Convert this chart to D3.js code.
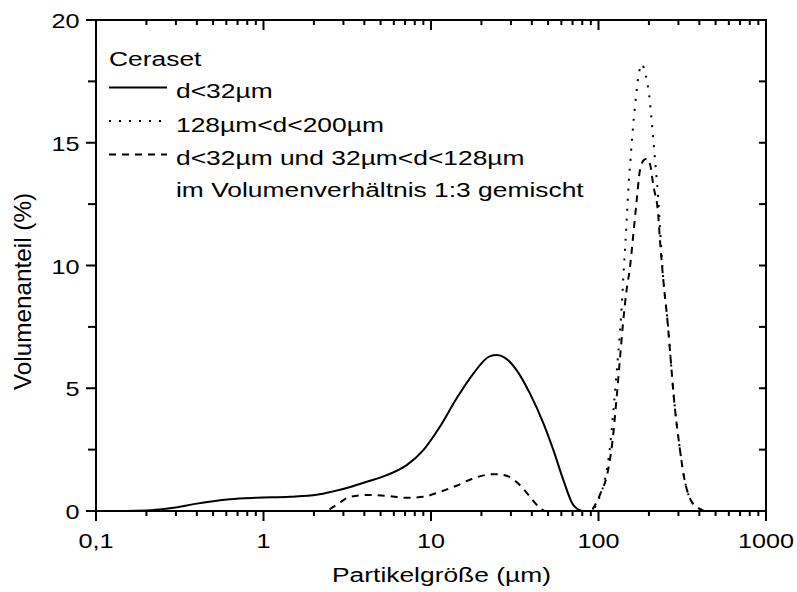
<!DOCTYPE html>
<html>
<head>
<meta charset="utf-8">
<script src="https://cdn.jsdelivr.net/npm/d3@7"></script>
<style>
  html, body { margin: 0; padding: 0; background: #fff; }
  svg text { font-family: "Liberation Sans", Arial, sans-serif; fill: #000; }
</style>
</head>
<body>
<svg id="chart" width="797" height="592"></svg>
<script>
// ---- data ----
const solidSize = [0.1, 0.15, 0.2, 0.29, 0.4, 0.5, 0.63, 0.91, 1.44, 2.08, 2.61, 3.3, 4.13, 5.44, 7.16, 9.0, 11.3, 14.2, 17.9, 22.4, 24.7, 27.5, 32.5, 39, 46.9, 53.8, 61.7, 70.8, 81, 100, 1000];
const solidVal  = [0, 0, 0.02, 0.13, 0.3, 0.4, 0.48, 0.54, 0.58, 0.66, 0.8, 0.98, 1.19, 1.46, 1.87, 2.48, 3.43, 4.58, 5.6, 6.3, 6.35, 6.25, 5.73, 4.78, 3.57, 2.48, 1.26, 0.24, 0, 0, 0];

const dottedSize = [0.1, 90, 95.6, 101.6, 109, 117.1, 122.7, 128.2, 134, 138.6, 141.7, 145, 148.3, 151.8, 155.2, 158.8, 162.5, 167.6, 173, 181, 192, 201, 207, 212, 217, 222, 227, 233, 244, 259, 271, 284, 303, 324, 355, 400, 435, 1000];
const dottedVal  = [0, 0, 0.17, 0.58, 1.26, 2.6, 4.1, 5.6, 7.22, 8.7, 9.9, 11.0, 12.2, 13.46, 14.3, 15.2, 16.0, 16.9, 17.7, 18.2, 17.7, 16.9, 16.0, 15.2, 14.4, 13.6, 12.8, 11.5, 9.4, 7.7, 6.0, 4.4, 2.75, 1.4, 0.45, 0.1, 0, 0];

const dashedSize = [0.1, 2.4, 2.52, 2.8, 3.28, 4.13, 5.44, 7.16, 9.0, 11.3, 14.2, 17.9, 23.5, 24.7, 29.4, 33.9, 39, 44, 48, 90, 94, 102.8, 113, 121.4, 127.4, 133.5, 140, 147, 154, 161.5, 169, 177, 187, 196, 205, 212, 227, 233, 244.6, 259, 271, 284, 303, 324, 355, 400, 435, 1000];
const dashedVal  = [0, 0, 0.1, 0.3, 0.58, 0.65, 0.62, 0.54, 0.58, 0.78, 1.03, 1.33, 1.5, 1.5, 1.39, 1.06, 0.58, 0.17, 0, 0, 0.17, 0.72, 1.53, 2.89, 4.38, 6.0, 7.63, 8.98, 9.9, 11.29, 12.64, 13.9, 14.3, 14.35, 14.0, 13.3, 12.1, 11.0, 9.3, 7.63, 6.0, 4.38, 2.75, 1.39, 0.45, 0.1, 0, 0];

const xTickValues = [0.1, 1, 10, 100, 1000];
const xTickLabels = ["0,1", "1", "10", "100", "1000"];
const yTickValues = [0, 5, 10, 15, 20];
const yTickLabels = ["0", "5", "10", "15", "20"];

const legendTitle = "Ceraset";
const legendLabels = ["d<32µm", "128µm<d<200µm", "d<32µm und 32µm<d<128µm"];
const legendExtra = "im Volumenverhältnis 1:3 gemischt";
const xTitle = "Partikelgröße (µm)";
const yTitle = "Volumenanteil (%)";

// ---- layout ----
const L = 96, R = 766, T = 20, B = 511;
const FS = 20, SX_TEXT = 1.32, SX_TICK = 1.26;

const svg = d3.select("#chart");
const x = d3.scaleLog().domain([0.1, 1000]).range([L, R]);
const y = d3.scaleLinear().domain([0, 20]).range([B, T]);

const minorX = [];
[0.1, 1, 10, 100].forEach(dec => { for (let k = 2; k <= 9; k++) minorX.push(dec * k); });
const minorY = [2.5, 7.5, 12.5, 17.5];

function txt(px, py, s, anchor, sx) {
  return svg.append("text")
    .attr("transform", `translate(${px},${py}) scale(${sx || SX_TEXT},1)`)
    .attr("text-anchor", anchor || "start")
    .style("font-size", FS + "px")
    .text(s);
}

// ---- curves ----
const line = d3.line().x(d => x(d[0])).y(d => y(d[1])).curve(d3.curveMonotoneX);
const series = [
  { s: solidSize, v: solidVal, dash: null },
  { s: dottedSize, v: dottedVal, dash: "2,8" },
  { s: dashedSize, v: dashedVal, dash: "7,6" }
];
series.forEach(se => {
  const pts = se.s.map((d, i) => [d, se.v[i]]);
  svg.append("path").datum(pts)
    .attr("d", line)
    .attr("fill", "none")
    .attr("stroke", "#000")
    .attr("stroke-width", 2)
    .attr("stroke-dasharray", se.dash);
});

// ---- axes ----
const ax = svg.append("g").attr("stroke", "#000").attr("stroke-width", 2).attr("fill", "none");
ax.append("rect").attr("x", L).attr("y", T).attr("width", R - L).attr("height", B - T);

xTickValues.forEach(v => {
  ax.append("line").attr("x1", x(v)).attr("x2", x(v)).attr("y1", B).attr("y2", B + 10);
  ax.append("line").attr("x1", x(v)).attr("x2", x(v)).attr("y1", T).attr("y2", T + 10);
});
minorX.forEach(v => {
  ax.append("line").attr("x1", x(v)).attr("x2", x(v)).attr("y1", B).attr("y2", B + 5);
  ax.append("line").attr("x1", x(v)).attr("x2", x(v)).attr("y1", T).attr("y2", T + 5);
});
yTickValues.forEach(v => {
  ax.append("line").attr("x1", L - 10).attr("x2", L).attr("y1", y(v)).attr("y2", y(v));
  ax.append("line").attr("x1", R - 7).attr("x2", R).attr("y1", y(v)).attr("y2", y(v));
});
minorY.forEach(v => {
  ax.append("line").attr("x1", L - 8).attr("x2", L).attr("y1", y(v)).attr("y2", y(v));
  ax.append("line").attr("x1", R - 7).attr("x2", R).attr("y1", y(v)).attr("y2", y(v));
});

// tick labels
xTickValues.forEach((v, i) => txt(x(v), 548, xTickLabels[i], "middle", SX_TICK));
yTickValues.forEach((v, i) => txt(79.5, y(v) + 8, yTickLabels[i], "end", SX_TICK));

// axis titles
txt(441.5, 582, xTitle, "middle");
svg.append("text")
  .attr("transform", `translate(31,291.5) rotate(-90)`)
  .attr("text-anchor", "middle")
  .style("font-size", "24.3px")
  .text(yTitle);

// ---- legend ----
const lx0 = 109, lx1 = 167, tx = 176;
txt(lx0, 65.5, legendTitle, "start");
const dashes = [null, "2,8", "7,6"];
legendLabels.forEach((lab, i) => {
  const by = 98 + i * 33.5;
  svg.append("line").attr("x1", lx0).attr("x2", lx1).attr("y1", by - 10.5).attr("y2", by - 10.5)
    .attr("stroke", "#000").attr("stroke-width", 2).attr("stroke-dasharray", dashes[i]);
  txt(tx, by, lab, "start");
});
txt(tx, 197, legendExtra, "start");
</script>
</body>
</html>
